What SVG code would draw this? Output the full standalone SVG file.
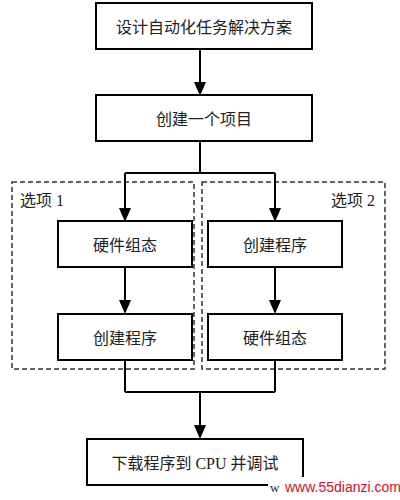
<svg xmlns="http://www.w3.org/2000/svg" width="400" height="500" viewBox="0 0 400 500">
<style>
.box{fill:#fff;stroke:#000;stroke-width:2}
.t{font-family:"Liberation Serif","Noto Sans CJK SC",serif;font-size:16px;fill:#222;text-anchor:middle;dominant-baseline:central}
.lbl{font-family:"Liberation Serif","Noto Sans CJK SC",serif;font-size:16px;fill:#222}
.dash{fill:none;stroke:#333;stroke-width:1.5;stroke-dasharray:5,3}
.ln{fill:none;stroke:#000;stroke-width:2}
</style>
<rect width="400" height="500" fill="#fff"/>
<g id="groups">
<rect class="dash" x="12" y="182" width="182" height="187"/>
<text class="lbl" x="20" y="206">选项 1</text>
<rect class="dash" x="202" y="182" width="183" height="187"/>
<text class="lbl" x="331" y="206">选项 2</text>
</g>
<g id="connectors">
<path class="ln" d="M200,49 V83"/>
<path d="M194,82 L206,82 L200,96 Z"/>
<path class="ln" d="M200,141 V173 M125,173 H275 M125,173 V209 M275,173 V209"/>
<path d="M119,208 L131,208 L125,222 Z"/>
<path d="M269,208 L281,208 L275,222 Z"/>
<path class="ln" d="M125,267 V301 M275,267 V301"/>
<path d="M119,300 L131,300 L125,314 Z"/>
<path d="M269,300 L281,300 L275,314 Z"/>
<path class="ln" d="M125,360 V392 M275,360 V392 M125,392 H275 M200,392 V426"/>
<path d="M194,425 L206,425 L200,439 Z"/>
</g>
<g id="n1"><rect class="box" x="96" y="3" width="216" height="46"/><text class="t" x="204" y="27">设计自动化任务解决方案</text></g>
<g id="n2"><rect class="box" x="96" y="95" width="216" height="46"/><text class="t" x="204" y="119">创建一个项目</text></g>
<g id="n3"><rect class="box" x="58" y="221" width="134" height="46"/><text class="t" x="125" y="245">硬件组态</text></g>
<g id="n4"><rect class="box" x="58" y="314" width="134" height="46"/><text class="t" x="125" y="338">创建程序</text></g>
<g id="n5"><rect class="box" x="208" y="221" width="134" height="46"/><text class="t" x="275" y="245">创建程序</text></g>
<g id="n6"><rect class="box" x="208" y="314" width="134" height="46"/><text class="t" x="275" y="338">硬件组态</text></g>
<g id="n7"><rect class="box" x="87" y="439" width="216" height="46"/><text class="t" x="195" y="463">下载程序到 CPU 并调试</text></g>
<g id="watermark">
<rect x="268" y="477" width="132" height="23" fill="#fff"/>
<text x="270" y="492" font-family="Liberation Serif,serif" font-size="13" fill="#222">w</text>
<text x="285" y="492" font-family="Liberation Sans,Arial,sans-serif" font-size="14" fill="#cc1122">www.55dianzi.com</text>
</g>
</svg>
